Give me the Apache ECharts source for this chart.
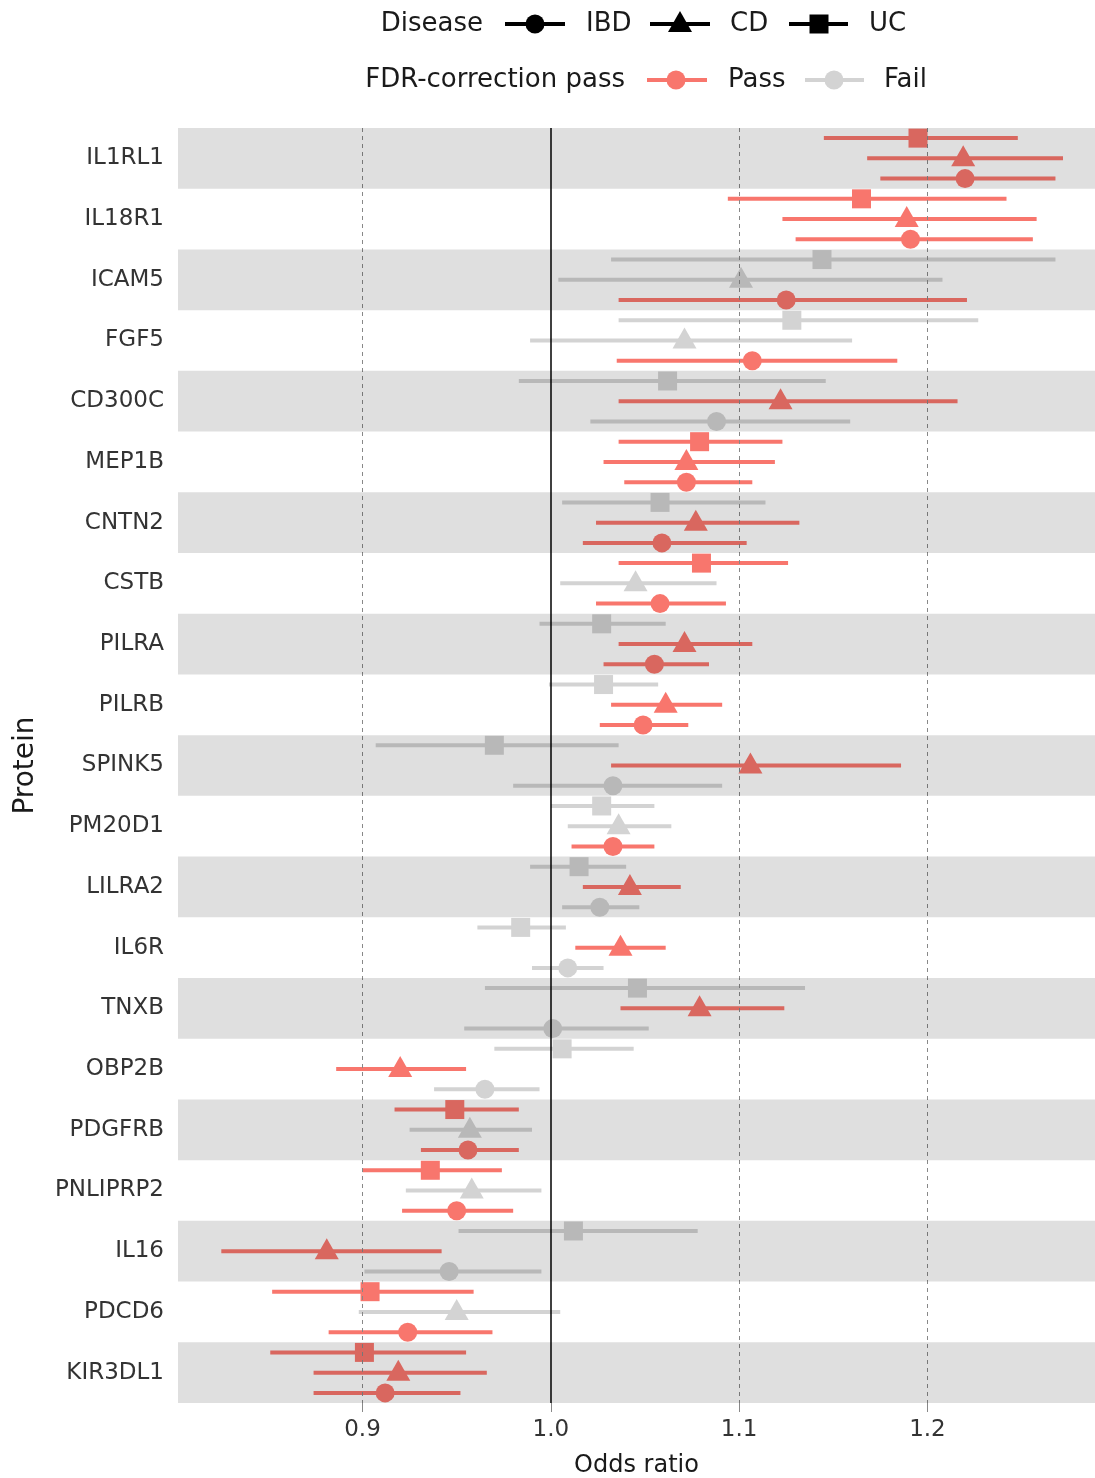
<!DOCTYPE html>
<html>
<head>
<meta charset="utf-8">
<script src="https://cdn.jsdelivr.net/npm/echarts@6/dist/echarts.min.js"></script>
<style>
  html, body { margin: 0; padding: 0; background: #fff; }
  #chart { width: 1095px; height: 1478px; }
</style>
</head>
<body>
<div id="chart"></div>
<script>
// proteins, top to bottom
const proteins = ['IL1RL1', 'IL18R1', 'ICAM5', 'FGF5', 'CD300C', 'MEP1B', 'CNTN2', 'CSTB', 'PILRA', 'PILRB',
  'SPINK5', 'PM20D1', 'LILRA2', 'IL6R', 'TNXB', 'OBP2B', 'PDGFRB', 'PNLIPRP2', 'IL16', 'PDCD6', 'KIR3DL1'];
const xTicks = [0.9, 1.0, 1.1, 1.2];

// IBD: odds ratio, 95% CI, FDR pass (1) / fail (0)
const ibdOR = [1.220, 1.191, 1.125, 1.107, 1.088, 1.072, 1.059, 1.058, 1.055, 1.049, 1.033, 1.033, 1.026, 1.009, 1.001, 0.965, 0.956, 0.950, 0.946, 0.924, 0.912];
const ibdLo = [1.175, 1.130, 1.036, 1.035, 1.021, 1.039, 1.017, 1.024, 1.028, 1.026, 0.980, 1.011, 1.006, 0.990, 0.954, 0.938, 0.931, 0.921, 0.901, 0.882, 0.874];
const ibdHi = [1.268, 1.256, 1.221, 1.184, 1.159, 1.107, 1.104, 1.093, 1.084, 1.073, 1.091, 1.055, 1.047, 1.028, 1.052, 0.994, 0.983, 0.980, 0.995, 0.969, 0.952];
const ibdPass = [1, 1, 1, 1, 0, 1, 1, 1, 1, 1, 0, 1, 0, 0, 0, 0, 1, 1, 0, 1, 1];

// CD
const cdOR = [1.219, 1.189, 1.101, 1.071, 1.122, 1.072, 1.077, 1.045, 1.071, 1.061, 1.106, 1.036, 1.042, 1.037, 1.079, 0.920, 0.957, 0.958, 0.881, 0.950, 0.919];
const cdLo = [1.168, 1.123, 1.004, 0.989, 1.036, 1.028, 1.024, 1.005, 1.036, 1.032, 1.032, 1.009, 1.017, 1.013, 1.037, 0.886, 0.925, 0.923, 0.825, 0.898, 0.874];
const cdHi = [1.272, 1.258, 1.208, 1.160, 1.216, 1.119, 1.132, 1.088, 1.107, 1.091, 1.186, 1.064, 1.069, 1.061, 1.124, 0.955, 0.990, 0.995, 0.942, 1.005, 0.966];
const cdPass = [1, 1, 0, 0, 1, 1, 1, 0, 1, 1, 1, 0, 1, 1, 1, 1, 0, 0, 1, 0, 1];

// UC
const ucOR = [1.195, 1.165, 1.144, 1.128, 1.062, 1.079, 1.058, 1.080, 1.027, 1.028, 0.970, 1.027, 1.015, 0.984, 1.046, 1.006, 0.949, 0.936, 1.012, 0.904, 0.901];
const ucLo = [1.145, 1.094, 1.032, 1.036, 0.983, 1.036, 1.006, 1.036, 0.994, 0.999, 0.907, 1.000, 0.989, 0.961, 0.965, 0.970, 0.917, 0.900, 0.951, 0.852, 0.851];
const ucHi = [1.248, 1.242, 1.268, 1.227, 1.146, 1.123, 1.114, 1.126, 1.061, 1.057, 1.036, 1.055, 1.040, 1.008, 1.135, 1.044, 0.983, 0.974, 1.078, 0.959, 0.955];
const ucPass = [1, 1, 0, 0, 0, 1, 0, 1, 0, 0, 0, 0, 0, 0, 0, 0, 1, 1, 0, 1, 1];

const PASS = '#F8766D';
const FAIL = '#D3D3D3';
const FONT = '"DejaVu Sans", sans-serif';

function markerShape(shape, cx, cy, color) {
  if (shape === 'circle') {
    return { type: 'circle', shape: { cx, cy, r: 9.5 }, style: { fill: color } };
  }
  if (shape === 'square') {
    return { type: 'rect', shape: { x: cx - 9.5, y: cy - 9.5, width: 19, height: 19 }, style: { fill: color } };
  }
  return { type: 'polygon', shape: { points: [[cx, cy - 13], [cx - 12, cy + 8], [cx + 12, cy + 8]] }, style: { fill: color } };
}

function forestSeries(name, shape, offset, or, lo, hi, pass) {
  return {
    type: 'custom',
    name,
    z: 3,
    encode: { x: [0, 2, 3], y: 1 },
    data: or.map((v, i) => [v, i, lo[i], hi[i], pass[i]]),
    renderItem(params, api) {
      const c = api.coord([api.value(0), api.value(1)]);
      const h = api.size([0, 1])[1];
      const y = c[1] + offset * h;
      const x1 = api.coord([api.value(2), api.value(1)])[0];
      const x2 = api.coord([api.value(3), api.value(1)])[0];
      const color = api.value(4) ? PASS : FAIL;
      return {
        type: 'group',
        children: [
          { type: 'line', shape: { x1, y1: y, x2, y2: y }, style: { stroke: color, lineWidth: 4 } },
          markerShape(shape, c[0], y, color)
        ]
      };
    }
  };
}

// alternating grey bands, laid over the marks like a translucent rect
const bandSeries = {
  type: 'custom',
  silent: true,
  z: 5,
  encode: { x: 0, y: 1 },
  data: proteins.map((p, i) => [1, i]).filter(d => d[1] % 2 === 0),
  renderItem(params, api) {
    const cs = params.coordSys;
    const cy = api.coord([1, api.value(1)])[1];
    const h = api.size([0, 1])[1];
    return {
      type: 'rect',
      shape: { x: cs.x, y: cy - h / 2, width: cs.width, height: h },
      style: { fill: 'rgba(0,0,0,0.125)' }
    };
  },
  markLine: {
    silent: true,
    symbol: 'none',
    label: { show: false },
    data: xTicks.map(v => ({
      xAxis: v,
      lineStyle: v === 1.0
        ? { color: '#000', width: 1.5, type: 'solid' }
        : { color: '#888', width: 1, type: [4, 4] }
    }))
  }
};

function text(str, x, y, align, color) {
  return {
    type: 'text', x, y,
    style: { text: str, font: '26px ' + FONT, fill: color || '#1a1a1a', textAlign: align, align, textVerticalAlign: 'middle', verticalAlign: 'middle' }
  };
}
function keyLine(x1, x2, y, color) {
  return { type: 'line', shape: { x1, y1: y, x2, y2: y }, style: { stroke: color, lineWidth: 4 } };
}

const legend = [
  text('Disease', 483, 24, 'right'),
  keyLine(505, 565, 24, '#000'), markerShape('circle', 535, 24, '#000'),
  text('IBD', 586, 24, 'left'),
  keyLine(650, 710, 24, '#000'), markerShape('triangle', 680, 24, '#000'),
  text('CD', 730, 24, 'left'),
  keyLine(789, 848, 24, '#000'), markerShape('square', 819, 24, '#000'),
  text('UC', 869, 24, 'left'),
  text('FDR-correction pass', 625, 80, 'right'),
  keyLine(647, 707, 80, PASS), markerShape('circle', 676, 80, PASS),
  text('Pass', 728, 80, 'left'),
  keyLine(805, 864, 80, FAIL), markerShape('circle', 834, 80, FAIL),
  text('Fail', 884, 80, 'left')
];

const chart = echarts.init(document.getElementById('chart'));
chart.setOption({
  animation: false,
  backgroundColor: '#fff',
  textStyle: { fontFamily: FONT },
  grid: { left: 178, right: 0, top: 128, bottom: 75, containLabel: false, outerBoundsMode: 'none' },
  xAxis: {
    type: 'value',
    min: 0.802,
    max: 1.289,
    name: 'Odds ratio',
    nameLocation: 'middle',
    nameGap: 51,
    nameTextStyle: { fontSize: 24, color: '#1a1a1a', fontFamily: FONT },
    axisLine: { show: false },
    axisTick: { show: true, customValues: xTicks, length: 9, lineStyle: { color: '#888' } },
    axisLabel: { customValues: xTicks, formatter: v => v.toFixed(1), fontSize: 23, color: '#333', margin: 16, fontFamily: FONT },
    splitLine: { show: false }
  },
  yAxis: {
    type: 'category',
    data: proteins,
    inverse: true,
    name: 'Protein',
    nameLocation: 'middle',
    nameGap: 138,
    nameTextStyle: { fontSize: 28, color: '#1a1a1a', fontFamily: FONT },
    axisLine: { show: false },
    axisTick: { show: false },
    axisLabel: { fontSize: 23, color: '#333', margin: 14, fontFamily: FONT },
    splitLine: { show: false }
  },
  graphic: legend,
  series: [
    forestSeries('UC', 'square', -1 / 3, ucOR, ucLo, ucHi, ucPass),
    forestSeries('CD', 'triangle', 0, cdOR, cdLo, cdHi, cdPass),
    forestSeries('IBD', 'circle', 1 / 3, ibdOR, ibdLo, ibdHi, ibdPass),
    bandSeries
  ]
});
</script>
</body>
</html>
